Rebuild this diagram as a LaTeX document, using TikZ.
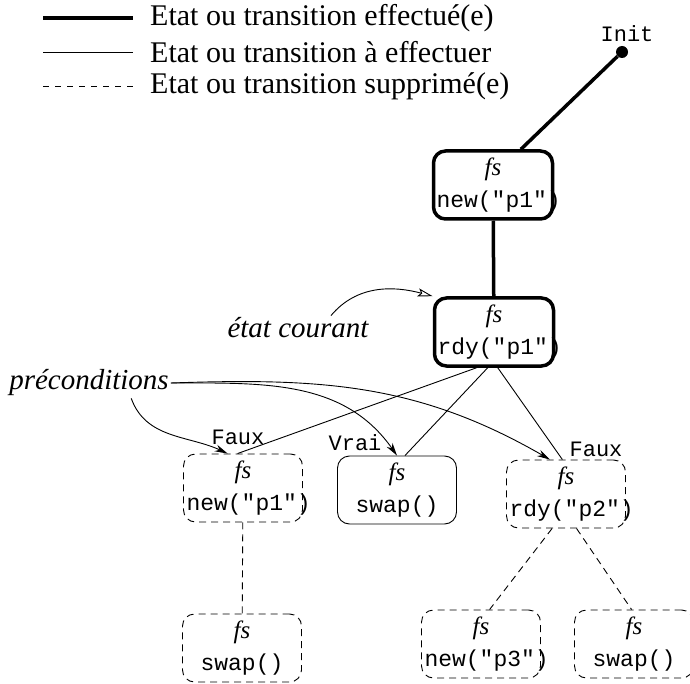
\documentclass[tikz,border=0pt]{standalone}
\usepackage{fontspec}
\setmainfont{Liberation Serif}
\setmonofont{Liberation Mono}
\usetikzlibrary{arrows.meta}
\newcommand\fsname{{\fontsize{25}{25}\selectfont\rmfamily\itshape fs}}
\tikzset{
	done/.style={line width=3.5pt},
	todo/.style={line width=0.9pt},
	gone/.style={line width=0.9pt, dash pattern=on 7pt off 5pt},
	state/.style={draw, rounded corners=12pt, minimum width=119pt, minimum height=68pt,
		text width=113pt, inner sep=3pt, align=center, font=\fontsize{23}{32}\selectfont\ttfamily},
	lbl/.style={font=\fontsize{22}{24}\selectfont\ttfamily, inner sep=1pt},
	note/.style={font=\fontsize{29}{32}\selectfont\itshape, inner sep=2pt},
	legend/.style={font=\fontsize{30}{32}\selectfont, anchor=west, inner sep=0pt},
	pre/.style={line width=0.9pt, -{Stealth[length=13pt,width=7pt]}}
}
\begin{document}
\begin{tikzpicture}[x=1pt,y=-1pt]
	\useasboundingbox (0,0) rectangle (690,684);
	% legende
	\draw[done] (43,18) -- (133,18);
	\draw[todo] (43,52) -- (133,52);
	\draw[line width=0.9pt, dash pattern=on 6pt off 6pt] (43,86) -- (133,86);
	\node[legend] (l1) at (150,18) {Etat ou transition effectué(e)};
	\node[legend] (l2) at (150,52) {Etat ou transition à effectuer};
	\node[legend] (l3) at (150,86) {Etat ou transition supprimé(e)};
	% etats
	\node[circle, fill, inner sep=0pt, minimum size=12pt] (init) at (622,52) {};
	\node[lbl] (initl) at (627,34) {Init};
	\node[state, done] (n1) at (493,185) {\fsname\\new("p1")};
	\node[state, done] (n2) at (494,332) {\fsname\\rdy("p1")};
	\node[state, gone] (n3) at (243,488) {\fsname\\new("p1")};
	\node[state, todo] (n4) at (397,490) {\fsname\\swap()};
	\node[state, gone] (n5) at (566,494) {\fsname\\rdy("p2")};
	\node[state, gone] (n6) at (242,648) {\fsname\\swap()};
	\node[state, gone] (n7) at (481,644) {\fsname\\new("p3")};
	\node[state, gone] (n8) at (634,644) {\fsname\\swap()};
	\node[lbl] (f1) at (238,437) {Faux};
	\node[lbl] (v1) at (355,443) {Vrai};
	\node[lbl] (f2) at (596,449) {Faux};
	% transitions
	\draw[done] (init) -- (n1.52);
	\draw[done] (n1) -- (n2);
	\draw[todo] (n2.244) -- (n3.99);
	\draw[todo] (n2.260) -- (n4.77);
	\draw[todo] (n2.276) -- (n5.96);
	\draw[gone] (n3) -- (n6);
	\draw[gone] (n5.248) -- (n7.76);
	\draw[gone] (n5.287) -- (n8.94);
	% commentaires
	\node[note] (cour) at (298,328) {état courant};
	\node[note] (prec) at (89,383) {préconditions};
	\draw[line width=0.9pt, -{Stealth[open,length=15pt,width=8pt,inset=3pt]}]
		([xshift=33pt]cour.north) to[out=50,in=165] (n2.north west);
	\draw[pre] (prec.-20) to[out=-70,in=155] (n3.114);
	\draw[pre] (prec.east) to[out=0,in=125] (n4.north);
	\draw[pre] (prec.east) to[out=2,in=150] (n5.115);
\end{tikzpicture}
\end{document}
